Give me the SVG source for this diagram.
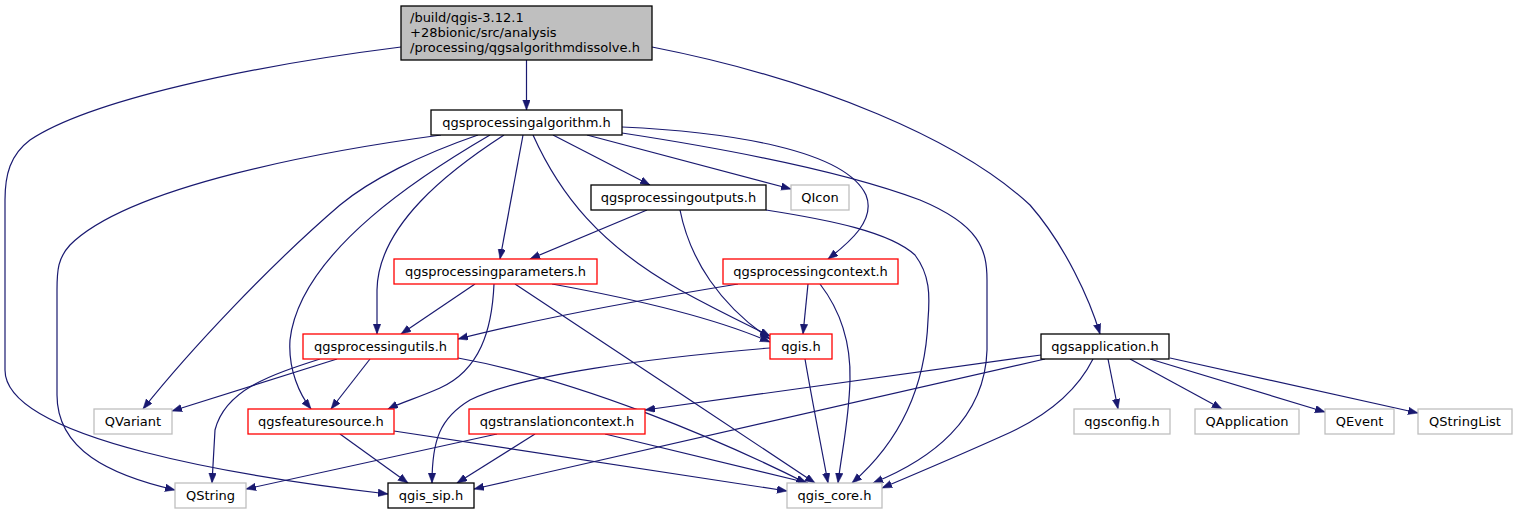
<svg xmlns="http://www.w3.org/2000/svg" width="1517" height="515" viewBox="0 0 1517 515">
<style>
text{font-family:"DejaVu Sans","Liberation Sans",sans-serif;font-size:13px;fill:#000}
.c{text-anchor:middle}
.n rect{fill:#fff;stroke-width:1.3}
.blk rect{stroke:#000}
.red rect{stroke:#ff0000}
.gry rect{stroke:#bfbfbf}
#edges path{fill:none;stroke:#191970;stroke-width:1.2;marker-end:url(#ah)}
</style>
<defs>
<marker id="ah" markerUnits="userSpaceOnUse" markerWidth="11" markerHeight="8" refX="10" refY="3.75" orient="auto">
<path d="M0,0 L10,3.75 L0,7.5 z" fill="#191970" stroke="#191970" stroke-width="0.5"/>
</marker>
</defs>
<rect width="1517" height="515" fill="#fff"/>
<g id="edges">
<path d="M526.5,60 L526.5,110"/>
<path d="M401,47 C250,66 90,100 30,140 C10,155 5,175 5,200 L5,370 C5,440 250,478 388,494"/>
<path d="M652,47 C820,80 960,140 1030,205 C1065,245 1090,300 1100,334"/>
<path d="M441,135 C330,150 130,185 70,245 C58,258 57,270 57,290 L57,395 C57,450 110,475 175,490"/>
<path d="M478,135 C420,155 370,180 340,205 C270,265 190,350 143,409"/>
<path d="M490,135 C430,170 300,250 290,340 C288,370 300,395 311,409"/>
<path d="M504,135 C450,170 378,225 377,290 L377,334"/>
<path d="M523,135 L500,259"/>
<path d="M533,135 C560,195 600,245 680,290 C720,312 748,325 770,336"/>
<path d="M553,135 L650,185"/>
<path d="M587,135 L791,189"/>
<path d="M622,127 C730,132 845,150 866,195 C876,220 850,242 828,259"/>
<path d="M622,133 C720,148 840,170 920,200 C980,225 987,250 987,280 L987,350 C985,420 930,460 873,483"/>
<path d="M647,210 L530,259"/>
<path d="M680,210 C690,260 720,305 770,339"/>
<path d="M766,210 C830,220 890,232 915,255 C930,275 930,295 928,320 C925,400 890,450 852,483"/>
<path d="M738,284 C640,300 540,318 458,339"/>
<path d="M808,284 L803,334"/>
<path d="M820,284 C840,310 851,340 850,380 C849,420 842,450 838,483"/>
<path d="M475,284 L401,334"/>
<path d="M494,284 C492,330 480,370 440,388 C420,397 400,403 388,409"/>
<path d="M552,284 C640,300 720,320 770,342"/>
<path d="M515,284 C600,340 720,420 815,483"/>
<path d="M337,359 L172,411"/>
<path d="M320,359 C270,375 225,390 215,430 L212,483"/>
<path d="M370,359 L331,409"/>
<path d="M458,358 C580,380 720,440 806,483"/>
<path d="M770,348 C650,358 520,375 470,400 C440,418 432,440 432,483"/>
<path d="M805,359 C812,400 820,440 828,483"/>
<path d="M340,434 L408,483"/>
<path d="M394,431 L787,491"/>
<path d="M497,434 L246,489"/>
<path d="M605,434 L808,483"/>
<path d="M535,434 L457,483"/>
<path d="M1041,355 L645,410"/>
<path d="M1045,359 L474,489"/>
<path d="M1093,359 C1075,395 1040,420 1000,437 C960,455 920,472 882,488"/>
<path d="M1108,359 L1118,409"/>
<path d="M1130,359 L1222,409"/>
<path d="M1150,359 L1325,412"/>
<path d="M1170,358 L1418,413"/>
</g>
<g id="n_main" class="n"><rect x="401" y="6" width="251" height="54" style="fill:#bfbfbf;stroke:#000"/><text x="410" y="22">/build/qgis-3.12.1</text><text x="410" y="37">+28bionic/src/analysis</text><text x="410" y="51.5">/processing/qgsalgorithmdissolve.h</text></g>
<g id="n_alg" class="n blk"><rect x="431" y="110" width="191" height="25"/><text class="c" x="526.5" y="127">qgsprocessingalgorithm.h</text></g>
<g id="n_outputs" class="n blk"><rect x="591" y="185" width="175" height="25"/><text class="c" x="678.5" y="202">qgsprocessingoutputs.h</text></g>
<g id="n_qicon" class="n gry"><rect x="791" y="185" width="58" height="25"/><text class="c" x="820" y="202">QIcon</text></g>
<g id="n_params" class="n red"><rect x="394" y="259" width="203" height="25"/><text class="c" x="495.5" y="276">qgsprocessingparameters.h</text></g>
<g id="n_context" class="n red"><rect x="723" y="259" width="175" height="25"/><text class="c" x="810.5" y="276">qgsprocessingcontext.h</text></g>
<g id="n_utils" class="n red"><rect x="303" y="334" width="155" height="25"/><text class="c" x="380.5" y="351">qgsprocessingutils.h</text></g>
<g id="n_qgis" class="n red"><rect x="770" y="334" width="62" height="25"/><text class="c" x="801" y="351">qgis.h</text></g>
<g id="n_app" class="n blk"><rect x="1041" y="334" width="128" height="25"/><text class="c" x="1105" y="351">qgsapplication.h</text></g>
<g id="n_qvariant" class="n gry"><rect x="94" y="409" width="78" height="25"/><text class="c" x="133" y="426">QVariant</text></g>
<g id="n_featsrc" class="n red"><rect x="248" y="409" width="146" height="25"/><text class="c" x="321" y="426">qgsfeaturesource.h</text></g>
<g id="n_transl" class="n red"><rect x="469" y="409" width="176" height="25"/><text class="c" x="557" y="426">qgstranslationcontext.h</text></g>
<g id="n_config" class="n gry"><rect x="1074" y="409" width="96" height="25"/><text class="c" x="1122" y="426">qgsconfig.h</text></g>
<g id="n_qapp" class="n gry"><rect x="1195" y="409" width="104" height="25"/><text class="c" x="1247" y="426">QApplication</text></g>
<g id="n_qevent" class="n gry"><rect x="1325" y="409" width="69" height="25"/><text class="c" x="1359.5" y="426">QEvent</text></g>
<g id="n_qsl" class="n gry"><rect x="1418" y="409" width="94" height="25"/><text class="c" x="1465" y="426">QStringList</text></g>
<g id="n_qstring" class="n gry"><rect x="175" y="483" width="71" height="25"/><text class="c" x="210.5" y="500">QString</text></g>
<g id="n_sip" class="n blk"><rect x="388" y="483" width="86" height="25"/><text class="c" x="431" y="500">qgis_sip.h</text></g>
<g id="n_core" class="n gry"><rect x="787" y="483" width="95" height="25"/><text class="c" x="834.5" y="500">qgis_core.h</text></g>
</svg>
